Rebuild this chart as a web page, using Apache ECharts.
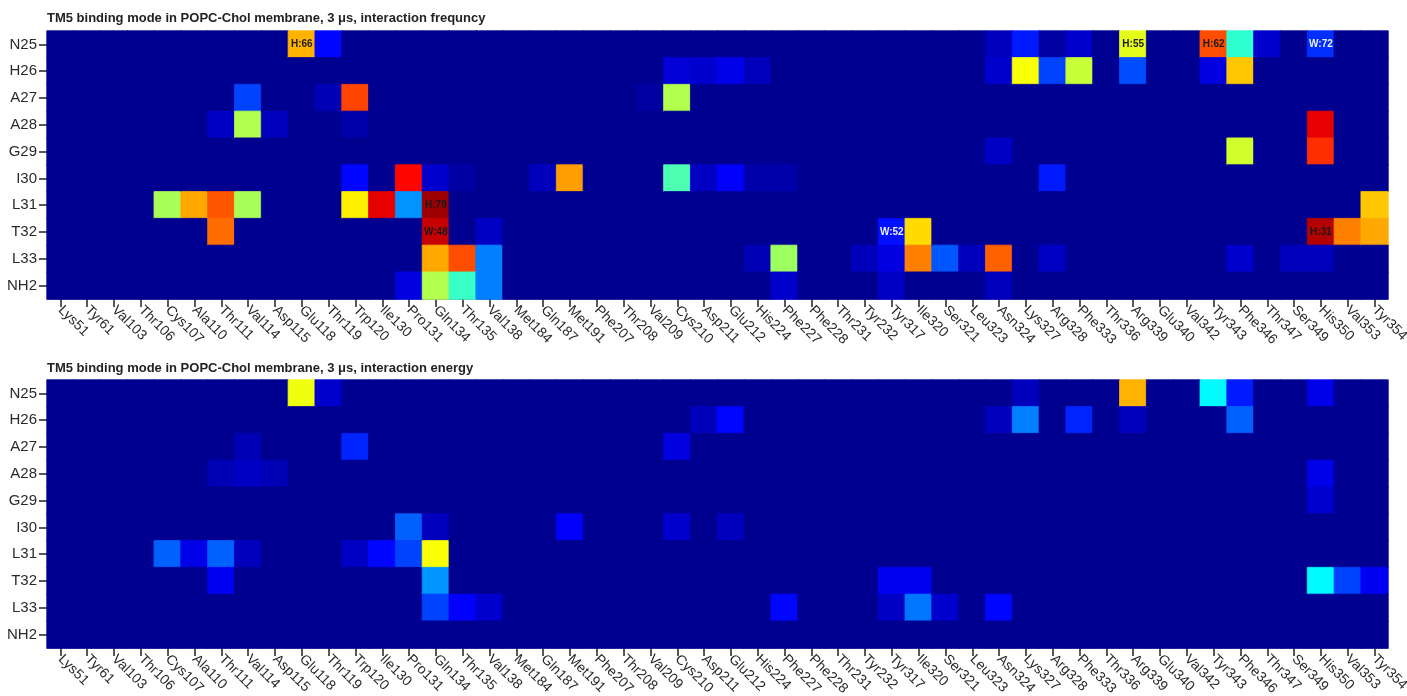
<!DOCTYPE html>
<html>
<head>
<meta charset="utf-8">
<script src="https://cdn.jsdelivr.net/npm/echarts@6/dist/echarts.min.js"></script>
<style>
html,body{margin:0;padding:0;background:#fff;}
#chart{width:1407px;height:696px;}
</style>
</head>
<body>
<div id="chart"></div>
<script>
// ---- categories ----
const residues = ['Lys51','Tyr61','Val103','Thr106','Cys107','Ala110','Thr111','Val114','Asp115','Glu118','Thr119','Trp120','Ile130','Pro131','Gln134','Thr135','Val138','Met184','Gln187','Met191','Phe207','Thr208','Val209','Cys210','Asp211','Glu212','His224','Phe227','Phe228','Thr231','Tyr232','Tyr317','Ile320','Ser321','Leu323','Asn324','Lys327','Arg328','Phe333','Thr336','Arg339','Glu340','Val342','Tyr343','Phe346','Thr347','Ser349','His350','Val353','Tyr354'];
const peptide = ['N25','H26','A27','A28','G29','I30','L31','T32','L33','NH2'];

const titleFreq = 'TM5 binding mode in POPC-Chol membrane, 3 μs, interaction frequncy';
const titleEnergy = 'TM5 binding mode in POPC-Chol membrane, 3 μs, interaction energy';

// ---- non-zero cells: [residue, peptide, value(0-100)] ; all other cells are 0 ----
const freqCells = [
  ['Glu118','N25',70],['Thr119','N25',13],['Asn324','N25',5],['Lys327','N25',15],['Arg328','N25',2],['Phe333','N25',7],['Arg339','N25',60],['Tyr343','N25',80],['Phe346','N25',42],['Thr347','N25',7],['His350','N25',17],
  ['Cys210','H26',8],['Asp211','H26',7],['Glu212','H26',10],['His224','H26',5],['Asn324','H26',7],['Lys327','H26',62],['Arg328','H26',19],['Phe333','H26',57],['Arg339','H26',20],['Tyr343','H26',9],['Phe346','H26',68],
  ['Val114','A27',19],['Thr119','A27',4],['Trp120','A27',81],['Val209','A27',2],['Cys210','A27',55],
  ['Thr111','A28',6],['Val114','A28',55],['Asp115','A28',5],['Trp120','A28',3],['His350','A28',90],
  ['Asn324','G29',6],['Phe346','G29',58],['His350','G29',83],
  ['Trp120','I30',13],['Pro131','I30',87],['Gln134','I30',7],['Thr135','I30',2],['Gln187','I30',5],['Met191','I30',72],['Cys210','I30',45],['Asp211','I30',6],['Glu212','I30',12],['His224','I30',3],['Phe227','I30',3],['Arg328','I30',15],
  ['Cys107','L31',54],['Ala110','L31',71],['Thr111','L31',79],['Val114','L31',54],['Trp120','L31',64],['Ile130','L31',90],['Pro131','L31',27],['Gln134','L31',97],['Tyr354','L31',68],
  ['Thr111','T32',77],['Gln134','T32',93],['Val138','T32',6],['Tyr317','T32',14],['Ile320','T32',66],['His350','T32',95],['Val353','T32',75],['Tyr354','T32',71],
  ['Gln134','L33',71],['Thr135','L33',80],['Val138','L33',25],['His224','L33',4],['Phe227','L33',53],['Tyr232','L33',5],['Tyr317','L33',9],['Ile320','L33',75],['Ser321','L33',21],['Leu323','L33',5],['Asn324','L33',78],['Arg328','L33',6],['Phe346','L33',7],['Ser349','L33',5],['His350','L33',5],
  ['Pro131','NH2',9],['Gln134','NH2',55],['Thr135','NH2',43],['Val138','NH2',25],['Phe227','NH2',7],['Tyr317','NH2',6],['Asn324','NH2',5]
];

const energyCells = [
  ['Glu118','N25',61],['Thr119','N25',7],['Lys327','N25',5],['Arg339','N25',70],['Tyr343','N25',37],['Phe346','N25',15],['His350','N25',10],
  ['Asp211','H26',5],['Glu212','H26',13],['Asn324','H26',5],['Lys327','H26',25],['Phe333','H26',16],['Arg339','H26',5],['Phe346','H26',22],
  ['Val114','A27',4],['Trp120','A27',16],['Cys210','A27',9],
  ['Thr111','A28',4],['Val114','A28',6],['Asp115','A28',4],['His350','A28',10],
  ['His350','G29',7],
  ['Pro131','I30',22],['Gln134','I30',5],['Met191','I30',12],['Cys210','I30',7],['Glu212','I30',5],
  ['Cys107','L31',22],['Ala110','L31',10],['Thr111','L31',22],['Val114','L31',5],['Trp120','L31',6],['Ile130','L31',13],['Pro131','L31',19],['Gln134','L31',62],
  ['Thr111','T32',11],['Gln134','T32',27],['Tyr317','T32',11],['Ile320','T32',11],['His350','T32',37],['Val353','T32',19],['Tyr354','T32',11],
  ['Gln134','L33',19],['Thr135','L33',12],['Val138','L33',7],['Phe227','L33',13],['Tyr317','L33',6],['Ile320','L33',24],['Ser321','L33',7],['Asn324','L33',13]
];

// ---- annotations on the frequency map: [residue, peptide, text] ----
const freqLabels = [
  ['Glu118','N25','H:66'],['Arg339','N25','H:55'],['Tyr343','N25','H:62'],['His350','N25','W:72'],
  ['Gln134','L31','H:79'],['Gln134','T32','W:48'],['Tyr317','T32','W:52'],['His350','T32','H:31']
];

// ---- jet colour map (evenly spaced stops over 0..100) ----
const jetStops = [[0,0,144],[0,0,255],[0,128,255],[0,255,255],[128,255,128],[255,255,0],[255,128,0],[255,0,0],[128,0,0]];
function jet(v){
  const t = Math.max(0, Math.min(1, v / 100)) * (jetStops.length - 1);
  const i = Math.min(jetStops.length - 2, Math.floor(t));
  const f = t - i;
  const a = jetStops[i], b = jetStops[i + 1];
  const c = a.map((x, k) => Math.round(x + (b[k] - x) * f));
  return 'rgb(' + c.join(',') + ')';
}

// ---- build full grids ----
function cellMap(cells){
  const m = {};
  cells.forEach(c => { m[c[0]+'|'+c[1]] = c[2]; });
  return m;
}
function buildGrid(cells){
  const map = cellMap(cells);
  const out = [];
  residues.forEach((r, xi) => {
    peptide.forEach((p, yi) => {
      const v = map[r+'|'+p] || 0;
      const col = jet(v);
      out.push({ value: [xi, yi, v], itemStyle: { color: col, borderColor: col, borderWidth: 0.8 } });
    });
  });
  return out;
}
const freqData = buildGrid(freqCells);
const energyData = buildGrid(energyCells);
const freqMap = cellMap(freqCells);
const labelData = freqLabels.map(l => {
  const v = freqMap[l[0]+'|'+l[1]] || 0;
  return {
    value: [residues.indexOf(l[0]), peptide.indexOf(l[1]), v],
    itemStyle: { color: 'rgba(0,0,0,0)', borderWidth: 0 },
    label: { formatter: l[2], color: v < 30 ? '#eef0ff' : '#1a1a1a' }
  };
});

const FONT = 'Liberation Sans, Arial, sans-serif';
const BG = jet(0);

const grids = [
  { left: 47, right: 19, top: 31, height: 268, show: true, backgroundColor: BG, borderWidth: 0, containLabel: false, outerBoundsMode: 'none' },
  { left: 47, right: 19, top: 380, height: 268, show: true, backgroundColor: BG, borderWidth: 0, containLabel: false, outerBoundsMode: 'none' }
];

function xAx(i){
  return {
    type: 'category', gridIndex: i, data: residues,
    axisLine: { show: true, lineStyle: { color: '#7a7ab8', width: 1 } },
    axisTick: { show: true, alignWithLabel: true, length: 8, lineStyle: { color: '#222', width: 1.5 } },
    axisLabel: { rotate: -45, color: '#2a2a2a', fontSize: 14, fontFamily: FONT, margin: 9, interval: 0 },
    splitLine: { show: false }
  };
}
function yAx(i){
  return {
    type: 'category', gridIndex: i, data: peptide, inverse: true,
    axisLine: { show: true, lineStyle: { color: '#7a7ab8', width: 1 } },
    axisTick: { show: true, alignWithLabel: true, length: 8, lineStyle: { color: '#222', width: 1.5 } },
    axisLabel: { color: '#2a2a2a', fontSize: 15, fontFamily: FONT, margin: 10, interval: 0 },
    splitLine: { show: false }
  };
}

const option = {
  animation: false,
  backgroundColor: '#ffffff',
  title: [
    { text: titleFreq, left: 47, top: 12, padding: 0, textStyle: { fontSize: 13, fontWeight: 'bold', color: '#222', fontFamily: FONT } },
    { text: titleEnergy, left: 47, top: 362, padding: 0, textStyle: { fontSize: 13, fontWeight: 'bold', color: '#222', fontFamily: FONT } }
  ],
  grid: grids,
  xAxis: [xAx(0), xAx(1)],
  yAxis: [yAx(0), yAx(1)],
  series: [
    { type: 'heatmap', xAxisIndex: 0, yAxisIndex: 0, data: freqData, emphasis: { disabled: true } },
    { type: 'heatmap', xAxisIndex: 1, yAxisIndex: 1, data: energyData, emphasis: { disabled: true } },
    { type: 'heatmap', xAxisIndex: 0, yAxisIndex: 0, data: labelData, z: 5,
      label: { show: true, fontSize: 10, fontWeight: 'bold', fontFamily: FONT },
      emphasis: { disabled: true } }
  ]
};

const chart = echarts.init(document.getElementById('chart'), null, { renderer: 'canvas' });
chart.setOption(option);
</script>
</body>
</html>
